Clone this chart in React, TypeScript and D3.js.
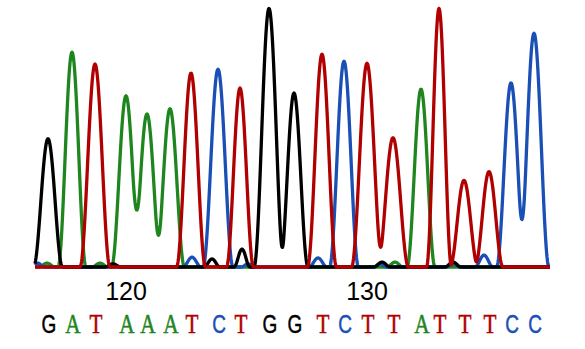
import React from 'react';
import * as d3 from 'd3';

// Base calls (categories) and their peaks
const bases = ['G','A','T','A','A','A','T','C','T','G','G','T','C','T','T','A','T','T','T','C','C'];
const peakScans = [13,37,60,91,112,135,156,183,205,234,259,287,309,332,358,386,404,429,454,476,499];
const peakHeights = [496,831,785,662,592,612,750,765,692,1000,673,823,796,788,500,688,1000,335,369,712,904];
const peakWidths = [14.5,14,15,14.5,14.5,14.5,14.5,15,13.5,15,14,14.5,14.5,15.5,15.5,14,12.5,14,14,14.5,15];
const firstPosition = 117;
const positionLabels = [120, 130];

// Minor (background) peaks
const minorBases = ['A','A','A','C','C','C','C','C','C','C','G','G','G','G','G'];
const minorScans = [12,65,360,3,157,213,283,345,418,449,78,177,207,347,418];
const minorHeights = [15,15,19,15,38,12,35,12,12,46,12,31,69,19,19];
const minorWidths = [8,8,8,6,9,7,9,7,7,9,8,8,8,8,8];

const scanDomain = [0, 515];
const signalDomain = [0, 1000];
const channels = ['A','C','G','T'];

const colors: Record<string,string> = { G: '#000000', A: '#1f861f', T: '#b00000', C: '#1a4fb5' };

const W = 585, H = 349;

export default function App() {
  const x = d3.scaleLinear().domain(scanDomain).range([35, 550]);
  const y = d3.scaleLinear().domain(signalDomain).range([267, 8.5]);

  const peaks = [
    ...bases.map((b, i) => ({ b, p: peakScans[i], h: peakHeights[i], w: peakWidths[i] })),
    ...minorBases.map((b, i) => ({ b, p: minorScans[i], h: minorHeights[i], w: minorWidths[i] })),
  ];

  const samples = d3.range(scanDomain[0], scanDomain[1] + 0.25, 0.5);
  const line = d3.line<[number, number]>().x(d => x(d[0])).y(d => y(d[1]));

  const traces = channels.map(ch => {
    const ps = peaks.filter(p => p.b === ch);
    const pts: [number, number][] = samples.map(s => {
      let v = 0;
      for (const p of ps) {
        const d = s - p.p;
        if (Math.abs(d) < p.w) {
          const c = Math.cos((Math.PI * d) / (2 * p.w));
          v += p.h * c * c;
        }
      }
      return [s, v];
    });
    return { ch, d: line(pts) || '' };
  });

  return (
    <div style={{ position: 'fixed', left: 0, top: 0 }}>
      <svg width={W} height={H} style={{ display: 'block', background: '#fff' }}>
        {traces.map(t => (
          <path key={t.ch} d={t.d} fill="none" stroke={colors[t.ch]} strokeWidth={3.3} strokeLinejoin="round" />
        ))}
        {positionLabels.map(n => (
          <text key={n} x={x(peakScans[n - firstPosition])} y={300} textAnchor="middle"
            fontFamily="'Liberation Sans', Arial, sans-serif" fontSize={25} fill="#000">{n}</text>
        ))}
        {bases.map((b, i) => {
          const serif = b === 'A' || b === 'T';
          return (
            <text key={i} transform={`translate(${x(peakScans[i]) + 1},332.5) scale(${serif ? 0.8 : 0.76},1)`}
              textAnchor="middle"
              fontFamily={serif ? "'Liberation Serif', 'Times New Roman', serif" : "'Liberation Sans', Arial, sans-serif"}
              fontSize={serif ? 26.5 : 25} fill={colors[b]} stroke={colors[b]} strokeWidth={0.5}>{b}</text>
          );
        })}
      </svg>
    </div>
  );
}
